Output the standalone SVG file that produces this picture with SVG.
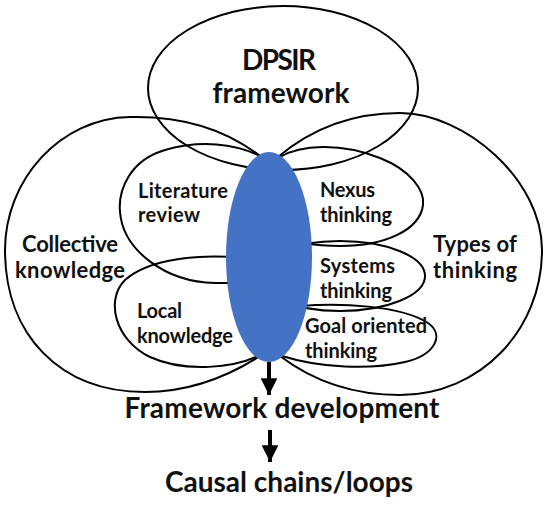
<svg xmlns="http://www.w3.org/2000/svg" width="550" height="507" viewBox="0 0 550 507">
<defs>
<style>
.lobe{fill:none;stroke:#000;stroke-width:2}
.t{font-family:Lato,"Liberation Sans",sans-serif;font-weight:bold;fill:#111}
.s{font-size:20px}
.m{font-size:22px}
.b{font-size:28px}
.arrow{stroke:#000;stroke-width:4;fill:none}
</style>
<marker id="ah" viewBox="0 0 10 10" refX="10" refY="5" markerWidth="4.2" markerHeight="4.2" orient="auto" markerUnits="strokeWidth">
<path d="M0,0 L10,5 L0,10 Z" fill="#000"/>
</marker>
</defs>
<rect width="550" height="507" fill="#fff"/>
<g id="dpsir">
<ellipse class="lobe" cx="283" cy="88" rx="135" ry="82"/>
<text class="t b" x="279" y="70" text-anchor="middle" textLength="74">DPSIR</text>
<text class="t b" x="281" y="103" text-anchor="middle" textLength="137">framework</text>
</g>
<g id="collective">
<path class="lobe" d="M260,156 C220,125 175,116 130,117 C60,118 5,180 5,250 C5,335 60,392 145,392 C195,392 235,372 260,356 Z"/>
<text class="t m" x="70" y="252" text-anchor="middle" textLength="96">Collective</text>
<text class="t m" x="70" y="278" text-anchor="middle" textLength="110">knowledge</text>
</g>
<g id="types">
<path class="lobe" d="M278,157 C310,130 350,113 400,113 C465,113 542,180 542,250 C542,330 480,395 400,395 C345,395 305,375 280,356 Z"/>
<text class="t m" x="475" y="252" text-anchor="middle" textLength="84">Types of</text>
<text class="t m" x="475" y="278" text-anchor="middle" textLength="84">thinking</text>
</g>
<g id="literature">
<path class="lobe" d="M262,157 C235,143 200,140 165,150 C130,160 118,190 120,212 C123,250 165,282 215,283 L240,283 Z"/>
<text class="t s" x="138" y="198" textLength="90">Literature</text>
<text class="t s" x="138" y="222" textLength="62">review</text>
</g>
<g id="local">
<path class="lobe" d="M245,258 C200,254 150,258 125,280 C105,300 115,340 150,357 C185,373 235,368 260,355 Z"/>
<text class="t s" x="137" y="318" textLength="45">Local</text>
<text class="t s" x="137" y="343" textLength="96">knowledge</text>
</g>
<g id="nexus">
<path class="lobe" d="M280,157 C300,145 340,142 380,158 C410,170 425,190 423,205 C420,230 385,246 340,246 C325,246 315,245 300,243 Z"/>
<text class="t s" x="320" y="197" textLength="55">Nexus</text>
<text class="t s" x="320" y="222" textLength="72">thinking</text>
</g>
<g id="systems">
<ellipse class="lobe" cx="340" cy="276" rx="85" ry="35"/>
<text class="t s" x="320" y="273" textLength="75">Systems</text>
<text class="t s" x="320" y="298" textLength="72">thinking</text>
</g>
<g id="goal">
<path class="lobe" d="M300,306 C340,303 400,305 428,323 C445,335 435,355 405,362 C370,370 320,368 282,356 Z"/>
<text class="t s" x="305" y="333" textLength="122">Goal oriented</text>
<text class="t s" x="305" y="358" textLength="72">thinking</text>
</g>
<g id="core">
<ellipse cx="269" cy="257" rx="43" ry="105" fill="#4472C4"/>
</g>
<g id="connectors">
<line class="arrow" x1="269" y1="362" x2="269" y2="395" marker-end="url(#ah)"/>
<line class="arrow" x1="270" y1="430" x2="270" y2="462" marker-end="url(#ah)"/>
</g>
<g id="framework-development">
<text class="t b" x="282" y="418" text-anchor="middle" textLength="315">Framework development</text>
</g>
<g id="causal">
<text class="t b" x="289" y="492" text-anchor="middle" textLength="248">Causal chains/loops</text>
</g>
</svg>
